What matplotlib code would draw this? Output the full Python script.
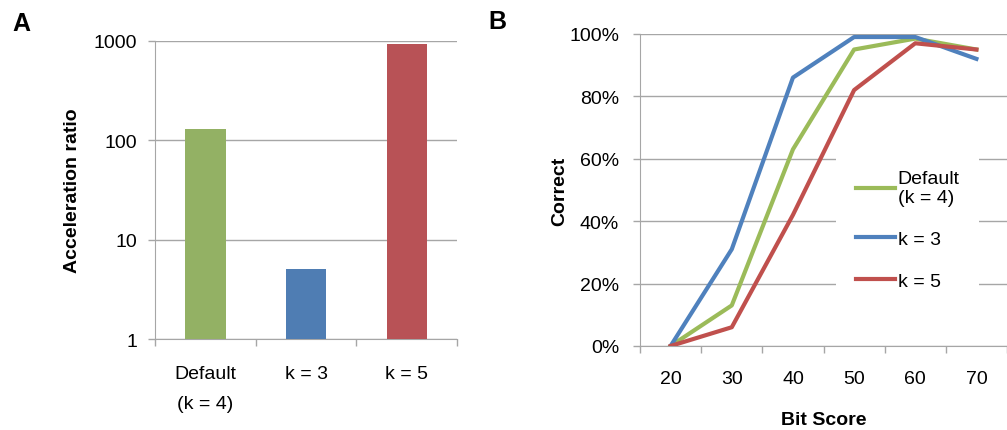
import matplotlib.pyplot as plt
import numpy as np
from matplotlib.ticker import FixedLocator, FuncFormatter

plt.rcParams['font.family'] = ['Liberation Sans', 'DejaVu Sans']

# acceleration ratios (log scale)
categories = ["Default\n(k = 4)", "k = 3", "k = 5"]
accel = [130, 5.1, 930]
bar_colors = ["#93B164", "#4F7DB3", "#B85256"]

# fraction of correct hits by bit score
bit_scores = [20, 30, 40, 50, 60, 70]
correct_k4 = [0.0, 0.13, 0.63, 0.95, 0.985, 0.95]
correct_k3 = [0.0, 0.31, 0.86, 0.99, 0.99, 0.92]
correct_k5 = [0.0, 0.06, 0.42, 0.82, 0.97, 0.95]

grid_c = "#A6A6A6"
fs = 14

fig = plt.figure(figsize=(10.07, 4.31), dpi=100)

# --- panel A ---
axA = fig.add_axes([0.154, 0.211, 0.300, 0.692])
x = np.arange(len(categories))
axA.bar(x, accel, width=0.4, color=bar_colors, zorder=3)
axA.set_yscale("log")
axA.set_ylim(1, 1000)
axA.set_xlim(-0.5, 2.5)
axA.set_yticks([1, 10, 100, 1000])
axA.yaxis.set_major_formatter(FuncFormatter(lambda v, p: "%d" % v))
axA.yaxis.set_minor_locator(FixedLocator([]))
axA.set_xticks(x)
axA.set_xticklabels(categories, linespacing=2.0, va="top")
axA.xaxis.set_minor_locator(FixedLocator([-0.5, 0.5, 1.5, 2.5]))
axA.tick_params(axis="x", which="major", length=0, pad=19, labelsize=fs)
axA.tick_params(axis="x", which="minor", length=5, color=grid_c, width=1)
axA.tick_params(axis="y", which="major", length=5, color=grid_c, width=1, pad=8, labelsize=fs)
axA.grid(axis="y", color=grid_c, lw=1, zorder=0)
for s in ["top", "right"]:
    axA.spines[s].set_visible(False)
for s in ["left", "bottom"]:
    axA.spines[s].set_color(grid_c)
axA.set_ylabel("Acceleration ratio", fontsize=fs, fontweight="bold")
axA.yaxis.set_label_coords(-0.245, 0.5)

# --- panel B ---
axB = fig.add_axes([0.6356, 0.195, 0.3644, 0.724])
pos = np.arange(len(bit_scores)) + 0.5
axB.plot(pos, correct_k4, color="#9BBB59", lw=3, label="Default\n(k = 4)", zorder=3)
axB.plot(pos, correct_k3, color="#4F81BD", lw=3, label="k = 3", zorder=3)
axB.plot(pos, correct_k5, color="#C0504D", lw=3, label="k = 5", zorder=3)
axB.set_xlim(0, 6)
axB.set_ylim(0, 1)
axB.set_yticks(np.arange(0, 1.01, 0.2))
axB.yaxis.set_major_formatter(FuncFormatter(lambda v, p: "%d%%" % round(v * 100)))
axB.set_xticks(pos)
axB.set_xticklabels([str(b) for b in bit_scores])
axB.xaxis.set_minor_locator(FixedLocator(np.arange(0, 7)))
axB.tick_params(axis="x", which="major", length=0, pad=17, labelsize=fs)
axB.tick_params(axis="x", which="minor", length=5, color=grid_c, width=1)
axB.tick_params(axis="y", which="major", length=5, color=grid_c, width=1, pad=10, labelsize=fs)
axB.grid(axis="y", color=grid_c, lw=1, zorder=0)
for s in ["top", "right"]:
    axB.spines[s].set_visible(False)
for s in ["left", "bottom"]:
    axB.spines[s].set_color(grid_c)
axB.set_ylabel("Correct", fontsize=fs, fontweight="bold")
axB.yaxis.set_label_coords(-0.196, 0.5)
axB.set_xlabel("Bit Score", fontsize=fs, fontweight="bold")
axB.xaxis.set_label_coords(0.5, -0.21)

leg = axB.legend(loc="upper left", bbox_to_anchor=(0.535, 0.625), frameon=True,
                 fancybox=False, edgecolor="none", facecolor="white", framealpha=1,
                 fontsize=fs, handlelength=2.0, handletextpad=0.15,
                 labelspacing=1.25, borderpad=1.0, borderaxespad=0)
for t in leg.get_texts():
    t.set_linespacing(1.1)

fig.text(0.012, 0.945, "A", fontsize=18, fontweight="bold", va="center")
fig.text(0.485, 0.948, "B", fontsize=18, fontweight="bold", va="center")

fig.savefig("out.png", dpi=100)
